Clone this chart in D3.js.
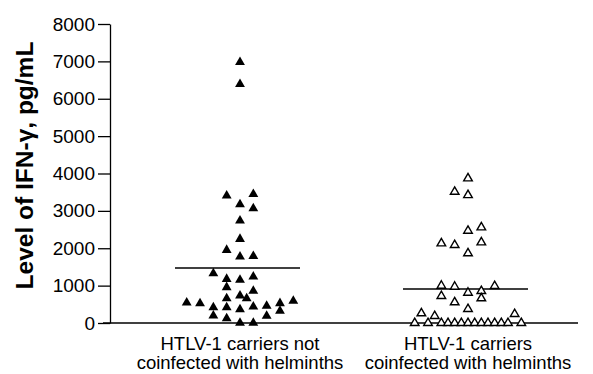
<!DOCTYPE html>
<html>
<head>
<meta charset="utf-8">
<script src="https://cdn.jsdelivr.net/npm/d3@7"></script>
<style>
  body { margin: 0; background: #fff; }
  text { font-family: Arial, "Liberation Sans", sans-serif; fill: #000; }
</style>
</head>
<body>
<div id="chart"></div>
<script>
// groups on the x axis
const groups = ["notCoinfected", "coinfected"];
const groupLabels = [
  ["HTLV-1 carriers not", "coinfected with helminths"],
  ["HTLV-1 carriers", "coinfected with helminths"]
];

// IFN-gamma levels, pg/mL
const notCoinfectedValues = [6980, 6390, 3404, 3449, 3173, 3065, 2735, 2246, 1952, 1773, 1791,
  1329, 1176, 1150, 1238, 955, 856, 730, 660, 660, 543, 525, 419, 419, 366, 436, 455, 527, 588,
  321, 187, 196, 125, 0, 0];
// scatter column of each point (beeswarm slot)
const notCoinfectedSlots = [0, 0, -2, 2, 0, 2, 0, 0, -2, 0, 2,
  -4, -2, 0, 2, -2, 2, 0, 1, -2, -8, -6, -4, -2, 0, 2, 4, 6, 8,
  6, 4, -4, -2, 0, 2];

const coinfectedValues = [3868, 3511, 3422, 2559, 2468, 2131, 2086, 2158, 1864,
  997, 971, 989, 810, 856, 722, 660, 553, 374, 259, 187, 241,
  0, 0, 0, 0, 0, 0, 0, 0, 0, 0, 0, 0, 0, 0];
const coinfectedSlots = [0, -2, 0, 2, 0, -4, -2, 2, 0,
  -4, -2, 4, 0, 2, -4, 2, -2, 0, -7, -5, 7,
  -8, -6, -4, -3, -2, -1, 0, 1, 2, 3, 4, 5, 6, 8];

// medians drawn as horizontal lines
const medians = [1470, 910];

const yTicks = [0, 1000, 2000, 3000, 4000, 5000, 6000, 7000, 8000];
const yTitle = "Level of IFN-\u03b3, pg/mL";

const W = 593, H = 374;
const svg = d3.select("#chart").append("svg")
  .attr("width", W).attr("height", H);

const y = d3.scaleLinear().domain([0, 8000]).range([323, 24]);
const x = d3.scalePoint().domain(groups).range([240, 468]);
const jitter = d3.scaleLinear().domain([-8, 8]).range([-53.3, 53.3]);

// y axis
const yAxis = svg.append("g")
  .attr("transform", "translate(110,0)")
  .call(d3.axisLeft(y).tickValues(yTicks).tickSize(12).tickSizeOuter(0).tickPadding(3)
    .tickFormat(d3.format("d")));
yAxis.selectAll("path, line").attr("stroke", "#000").attr("stroke-width", 1.3);
yAxis.selectAll("text").style("font-size", "19px").attr("fill", "#000");

// x baseline
svg.append("line")
  .attr("x1", 103).attr("x2", 578)
  .attr("y1", y(0)).attr("y2", y(0))
  .attr("stroke", "#000").attr("stroke-width", 1.5);

// y title
svg.append("text")
  .attr("transform", "translate(33," + ((y(0) + y(8000)) / 2 - 8) + ") rotate(-90)")
  .attr("text-anchor", "middle")
  .style("font-size", "24.5px")
  .style("font-weight", "bold")
  .text(yTitle);

// x labels
groupLabels.forEach((lines, i) => {
  lines.forEach((t, j) => {
    svg.append("text")
      .attr("x", x(groups[i]))
      .attr("y", 350 + j * 19)
      .attr("text-anchor", "middle")
      .style("font-size", "18.5px")
      .text(t);
  });
});

// median lines
medians.forEach((m, i) => {
  svg.append("line")
    .attr("x1", x(groups[i]) - 65).attr("x2", x(groups[i]) + 60)
    .attr("y1", y(m)).attr("y2", y(m))
    .attr("stroke", "#000").attr("stroke-width", 1.5);
});

const pts1 = notCoinfectedValues.map((v, i) => ({ v, s: notCoinfectedSlots[i] }));
const pts2 = coinfectedValues.map((v, i) => ({ v, s: coinfectedSlots[i] }));

svg.append("g").selectAll("path")
  .data(pts1).enter().append("path")
  .attr("d", d3.symbol().type(d3.symbolTriangle).size(42))
  .attr("transform", d => "translate(" + (x(groups[0]) + jitter(d.s)) + "," + y(d.v) + ")")
  .attr("fill", "#000");

svg.append("g").selectAll("path")
  .data(pts2).enter().append("path")
  .attr("d", d3.symbol().type(d3.symbolTriangle).size(32))
  .attr("transform", d => "translate(" + (x(groups[1]) + jitter(d.s)) + "," + y(d.v) + ")")
  .attr("fill", "#fff")
  .attr("stroke", "#000")
  .attr("stroke-width", 1.4);
</script>
</body>
</html>
